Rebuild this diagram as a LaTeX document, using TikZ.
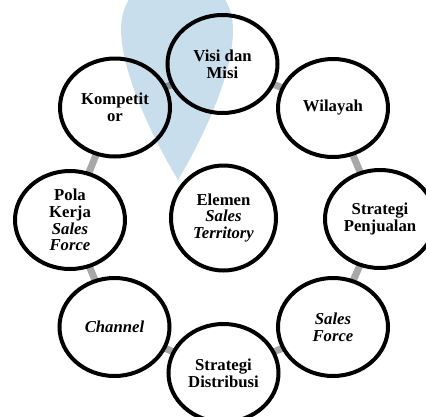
\documentclass[tikz,border=0pt]{standalone}
\usepackage{fontspec}
\setmainfont{Liberation Serif}
\usetikzlibrary{shapes.geometric}
\pgfdeclarelayer{background}
\pgfdeclarelayer{front}
\pgfsetlayers{background,main,front}
\definecolor{pinblue}{RGB}{200,222,236}
\definecolor{conngray}{RGB}{168,168,168}
\tikzset{
  bub/.style={ellipse, draw=black, line width=4pt, fill=white,
    minimum width=110pt, minimum height=98pt, inner sep=0pt,
    align=center, font=\fontsize{16.7pt}{16.8pt}\selectfont\bfseries},
  conn/.style={draw=conngray, line width=7pt}
}
\begin{document}
\begin{tikzpicture}[x=1pt,y=-1pt]
\useasboundingbox (0,0) rectangle (426,416);
\node[bub] (visi) at (222.5,64) {Visi dan\\Misi};
\node[bub] (wil) at (333,108) {Wilayah};
\node[bub] (penj) at (380,219) {Strategi\\Penjualan};
\node[bub] (sf) at (333,327) {\itshape Sales\\\itshape Force};
\node[bub] (dist) at (223.5,373) {Strategi\\Distribusi};
\node[bub] (chan) at (114.5,327) {\itshape Channel};
\node[bub] (pola) at (70,220) {Pola\\Kerja\\\itshape Sales\\\itshape Force};
\node[bub] (komp) at (115,107.5) {Kompetit\\or};
\node[bub, minimum width=105pt, minimum height=105pt] (elem) at (223.5,218) {Elemen\\\itshape Sales\\\itshape Territory};
\begin{pgfonlayer}{background}
\path[conn] (visi.center) -- (wil.center) -- (penj.center) -- (sf.center) -- (dist.center) -- (chan.center) -- (pola.center) -- (komp.center) -- (visi.center);
\end{pgfonlayer}
\begin{pgfonlayer}{front}
\fill[pinblue, blend mode=multiply] (178,180) .. controls (160,150) and (122,80) .. (121,30)
  .. controls (121,-45) and (233,-45) .. (233,30)
  .. controls (233,80) and (196,150) .. (178,180) -- cycle;
\end{pgfonlayer}
\end{tikzpicture}
\end{document}
